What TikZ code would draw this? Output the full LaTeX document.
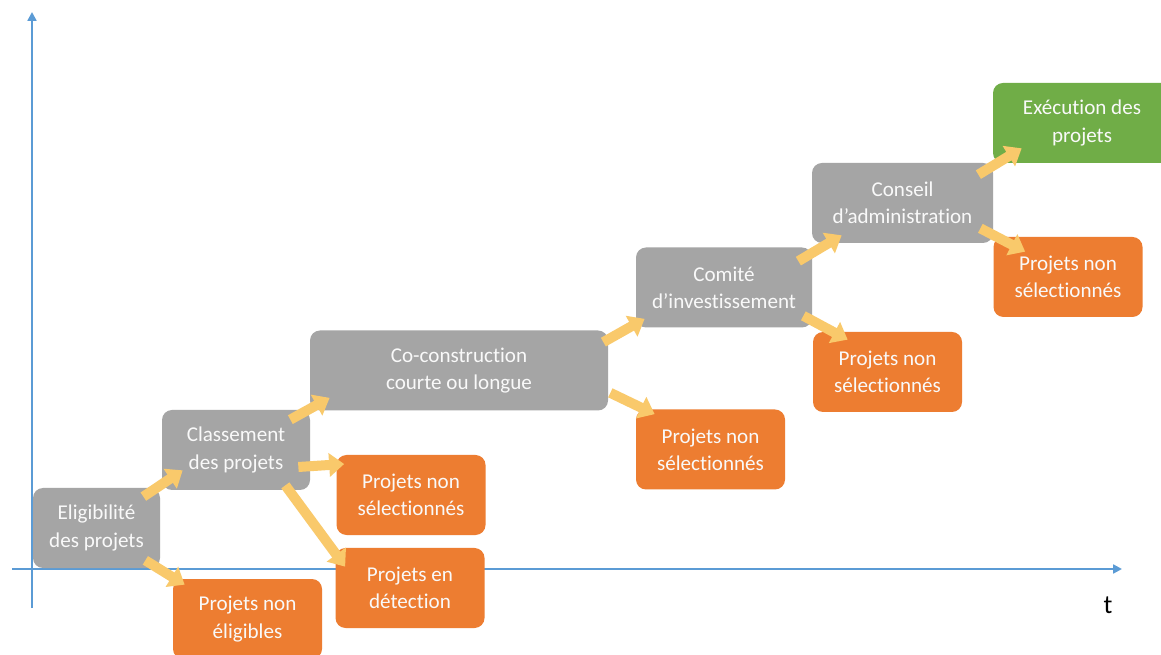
\documentclass[tikz,border=0pt]{standalone}
\usepackage{fontspec}
\setmainfont[Ligatures=NoCommon]{Carlito}
\usetikzlibrary{arrows.meta}

\definecolor{gris}{HTML}{A5A5A5}
\definecolor{orange}{HTML}{ED7D31}
\definecolor{vert}{HTML}{70AD47}
\definecolor{jaune}{HTML}{F9C96B}
\definecolor{bleu}{HTML}{5B9BD5}

\begin{document}
\begin{tikzpicture}
\tikzset{boite/.style={rounded corners=0.2cm, minimum height=1.6cm, align=center, text=white!95!gray, font=\fontsize{12}{15.5}\selectfont, inner sep=2pt},
  grisnoeud/.style={boite, fill=gris},
  orangenoeud/.style={boite, fill=orange, minimum width=2.98cm},
  vertnoeud/.style={boite, fill=vert},
  fleche/.style={jaune, line width=0.2cm, -{Triangle[width=0.46cm, length=0.3cm]}},
  axe/.style={bleu, line width=1.6pt, -{Triangle[width=5pt, length=5pt]}}}
\clip (0, 0) rectangle (23.22, 13.08);
\fill[white] (0, 0) rectangle (23.22, 13.08);
% axes
\coordinate (A1) at (0.64, 0.92);
\coordinate (A2) at (0.64, 12.84);
\coordinate (A3) at (0.24, 1.7);
\coordinate (A4) at (22.44, 1.7);
\draw[axe] (A1) -- (A2);
\draw[axe] (A3) -- (A4);
\node[font=\fontsize{15}{17}\selectfont] (T) at (22.16, 0.98) {t};
% etapes
\node[grisnoeud, minimum width=2.54cm] (G1) at (1.93, 2.52) {Eligibilité\\des projets};
\node[grisnoeud, minimum width=2.96cm] (G2) at (4.72, 4.08) {Classement\\des projets};
\node[grisnoeud, minimum width=5.96cm] (G3) at (9.18, 5.67) {Co-construction\\courte ou longue};
\node[grisnoeud, minimum width=3.52cm] (G4) at (14.48, 7.33) {Comité\\d’investissement};
\node[grisnoeud, minimum width=3.62cm] (G5) at (18.05, 9.02) {Conseil\\d’administration};
\node[vertnoeud, minimum width=3.56cm] (V1) at (21.64, 10.62) {Exécution des\\projets};
% rejets
\node[orangenoeud] (O1) at (4.95, 0.7) {Projets non\\éligibles};
\node[orangenoeud] (O2) at (8.22, 3.18) {Projets non\\sélectionnés};
\node[orangenoeud] (O3) at (8.2, 1.32) {Projets en\\détection};
\node[orangenoeud] (O4) at (14.21, 4.09) {Projets non\\sélectionnés};
\node[orangenoeud] (O5) at (17.75, 5.64) {Projets non\\sélectionnés};
\node[orangenoeud] (O6) at (21.36, 7.54) {Projets non\\sélectionnés};
% fleches
\draw[fleche] ([shift={(-0.34,-0.18)}]G1.north east) -- ([shift={(0.42,0.4)}]G2.south west);
\draw[fleche] ([shift={(-0.3,0.16)}]G1.south east) -- ([shift={(0.24,-0.12)}]O1.north west);
\draw[fleche] ([shift={(-0.4,-0.2)}]G2.north east) -- ([shift={(0.4,0.26)}]G3.south west);
\draw[fleche] ([shift={(-0.24,-0.34)}]G2.east) -- ([shift={(0.16,0.62)}]O2.west);
\draw[fleche] ([shift={(-0.5,0.1)}]G2.south east) -- ([shift={(0.2,-0.38)}]O3.north west);
\draw[fleche] ([shift={(-0.1,-0.24)}]G3.north east) -- ([shift={(0.18,0.18)}]G4.south west);
\draw[fleche] ([shift={(0.04,0.36)}]G3.south east) -- ([shift={(0.38,-0.1)}]O4.north west);
\draw[fleche] ([shift={(-0.28,-0.28)}]G4.north east) -- ([shift={(0.6,0.16)}]G5.south west);
\draw[fleche] ([shift={(-0.18,0.24)}]G4.south east) -- ([shift={(0.7,-0.16)}]O5.north west);
\draw[fleche] ([shift={(-0.3,-0.24)}]G5.north east) -- ([shift={(0.58,0.3)}]V1.south west);
\draw[fleche] ([shift={(-0.26,0.3)}]G5.south east) -- ([shift={(0.64,-0.3)}]O6.north west);
\end{tikzpicture}
\end{document}
